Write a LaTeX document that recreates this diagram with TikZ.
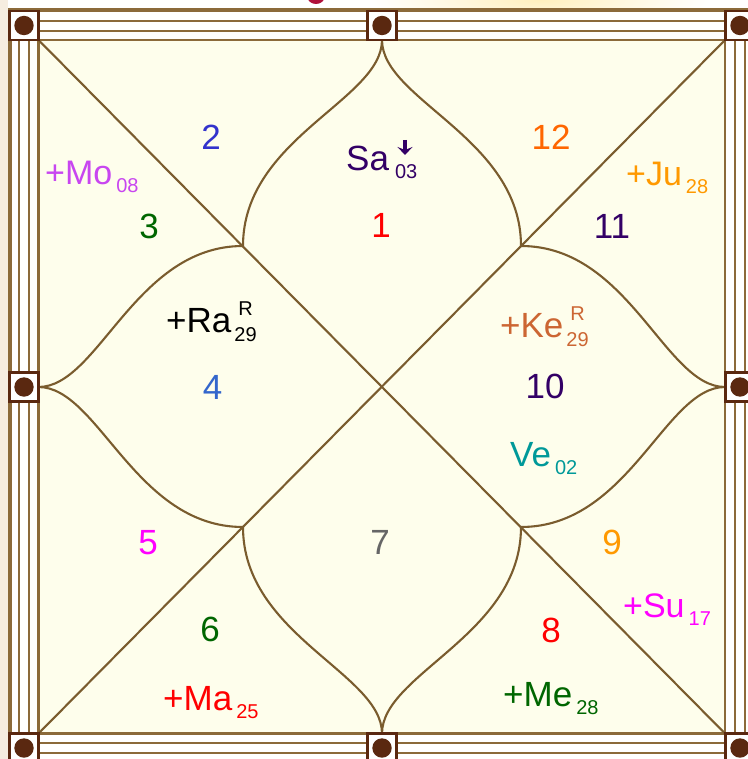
\documentclass[tikz,border=0pt]{standalone}
\usepackage{fontspec}
\setmainfont{Liberation Sans}
\usetikzlibrary{arrows.meta}
\definecolor{framebrown}{RGB}{139,106,58}
\definecolor{chartbrown}{RGB}{122,92,46}
\definecolor{studbrown}{RGB}{90,40,16}
\definecolor{ivory}{RGB}{254,254,236}
\definecolor{leftglow}{RGB}{246,237,224}
\definecolor{topglow}{RGB}{255,240,190}
\definecolor{crimson}{RGB}{176,16,58}
\definecolor{numblue}{RGB}{51,51,204}
\definecolor{moviolet}{RGB}{200,70,240}
\definecolor{dkgreen}{RGB}{0,102,0}
\definecolor{dkpurple}{RGB}{51,0,102}
\definecolor{saorange}{RGB}{255,102,0}
\definecolor{juorange}{RGB}{255,153,0}
\definecolor{raiblue}{RGB}{51,102,204}
\definecolor{kerust}{RGB}{204,102,51}
\definecolor{veteal}{RGB}{0,153,153}
\definecolor{sumagenta}{RGB}{255,0,255}
\definecolor{midgray}{RGB}{102,102,102}
\newcommand{\numfont}{\fontsize{35}{40}\selectfont}
\newcommand{\grahfont}{\fontsize{35}{40}\selectfont}
\newcommand{\smgrahfont}{\fontsize{34}{38}\selectfont}
\newcommand{\anshfont}{\fontsize{20}{22}\selectfont}
\newcommand{\ansh}[1]{{\anshfont\hspace{4pt}\raisebox{-8pt}{#1}}}
\newcommand{\anshst}[2]{{\anshfont\hspace{3pt}\ooalign{\hfil\raisebox{16.5pt}{#1}\hfil\cr\raisebox{-9pt}{#2}\cr}}}
\tikzstyle{frameline}=[draw=framebrown, line width=2.2pt]
\tikzstyle{chartline}=[draw=chartbrown, line width=2.1pt]
\tikzstyle{stud}=[draw=studbrown, line width=2.2pt, fill=white]
\tikzstyle{hnum}=[inner sep=0pt, font=\numfont]
\tikzstyle{grah}=[inner sep=0pt, anchor=base west, font=\grahfont]
\tikzstyle{vakri}=[draw=dkpurple, line width=3.8pt, -{Stealth[length=8pt, width=15pt, inset=3pt]}]

\begin{document}
\begin{tikzpicture}[x=1pt, y=-1pt]
    \useasboundingbox (0,0) rectangle (747,759);
    % background
    \fill[white] (0,0) rectangle (747,759);
    \fill[leftglow] (0,0) rectangle (7.5,759);
    \begin{scope}
      \clip (0,0) rectangle (747,9);
      \shade[inner color=topglow, outer color=white] (540,0) ellipse (170pt and 30pt);
      \fill[crimson] (316,-4) ellipse (9pt and 8pt);
    \end{scope}
    % frame
    \filldraw[frameline, fill=white, line width=4pt] (9.5,10.5) rectangle (754.5,762.5);
    \draw[frameline] (19,21) rectangle (745,753);
    \draw[frameline] (29,31) rectangle (735,743);
    \filldraw[frameline, fill=ivory] (38.5,40) rectangle (725,733.5);
    % chart
    \coordinate (tl) at (38.5,40);
    \coordinate (tr) at (725,40);
    \coordinate (bl) at (38.5,733.5);
    \coordinate (br) at (725,733.5);
    \coordinate (mt) at (382,40);
    \coordinate (mb) at (382,733.5);
    \coordinate (ml) at (38.5,387);
    \coordinate (mr) at (725,387);
    \coordinate (pa) at (243,246);
    \coordinate (pb) at (521,246);
    \coordinate (pc) at (243,527);
    \coordinate (pd) at (521,527);
    \draw[chartline] (tl) -- (br);
    \draw[chartline] (tr) -- (bl);
    \draw[chartline] (mt) .. controls +(0,60) and +(0,-108) .. (pa);
    \draw[chartline] (mt) .. controls +(0,60) and +(0,-108) .. (pb);
    \draw[chartline] (mb) .. controls +(0,-60) and +(0,108) .. (pc);
    \draw[chartline] (mb) .. controls +(0,-60) and +(0,108) .. (pd);
    \draw[chartline] (ml) .. controls +(60,0) and +(-108,0) .. (pa);
    \draw[chartline] (ml) .. controls +(60,0) and +(-108,0) .. (pc);
    \draw[chartline] (mr) .. controls +(-60,0) and +(108,0) .. (pb);
    \draw[chartline] (mr) .. controls +(-60,0) and +(108,0) .. (pd);
    % studs
    \foreach \sx/\sy in {24/25.5, 382/25.5, 740/25.5, 24/387, 740/387, 24/748, 382/748, 740/748} {
      \filldraw[stud] (\sx-14.5,\sy-14.5) rectangle +(29,29);
      \fill[studbrown] (\sx,\sy) circle (9.7pt);
    }
    % house numbers
    \node[hnum, text=red] (h1) at (381,225) {1};
    \node[hnum, text=numblue] (h2) at (211,137.5) {2};
    \node[hnum, text=dkgreen] (h3) at (149,226) {3};
    \node[hnum, text=raiblue] (h4) at (212.5,387) {4};
    \node[hnum, text=sumagenta] (h5) at (148,543) {5};
    \node[hnum, text=dkgreen] (h6) at (210,629) {6};
    \node[hnum, text=midgray] (h7) at (380,542) {7};
    \node[hnum, text=red] (h8) at (551,630) {8};
    \node[hnum, text=juorange] (h9) at (612,542) {9};
    \node[hnum, text=dkpurple] (h10) at (545,386) {10};
    \node[hnum, text=dkpurple] (h11) at (612,226) {11};
    \node[hnum, text=saorange] (h12) at (551,137) {12};
    % planets
    \node[grah, text=dkpurple] (sa) at (346,171) {Sa{\anshfont\hspace{6pt}\raisebox{-8pt}{03}}};
    \coordinate (satop) at (405,140);
    \coordinate (satip) at (405,155);
    \draw[vakri] (satop) -- (satip);
    \node[grah, font=\smgrahfont, text=moviolet] (mo) at (45,185) {+Mo\ansh{08}};
    \node[grah, font=\smgrahfont, text=juorange] (ju) at (626,186) {+Ju\ansh{28}};
    \node[grah, text=black] (ra) at (166,332) {+Ra\anshst{R}{29}};
    \node[grah, text=kerust] (ke) at (500,337) {+Ke\anshst{R}{29}};
    \node[grah, text=veteal] (ve) at (510,466) {Ve\ansh{02}};
    \node[grah, font=\smgrahfont, text=sumagenta] (su) at (623,617) {+Su\ansh{17}};
    \node[grah, text=red] (ma) at (163,710) {+Ma\ansh{25}};
    \node[grah, text=dkgreen] (me) at (503,706) {+Me\ansh{28}};
\end{tikzpicture}
\end{document}
